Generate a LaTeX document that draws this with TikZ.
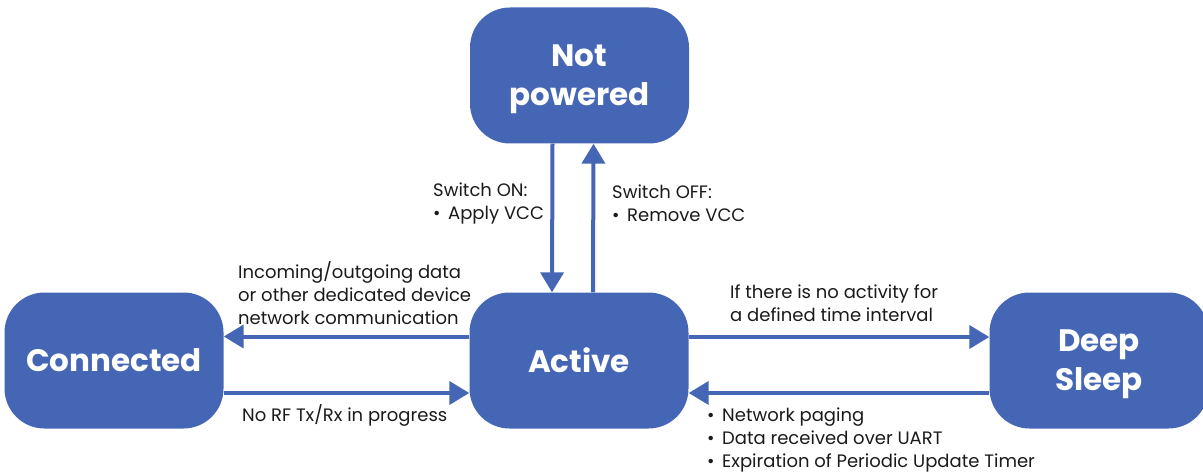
\documentclass[tikz,border=0pt]{standalone}
\usepackage{fontspec}
\setmainfont{Poppins}
\usetikzlibrary{arrows.meta}

\definecolor{stateblue}{HTML}{4565B5}
\definecolor{labeltext}{HTML}{1A1A1A}
\newcommand{\bul}{\makebox[15pt][l]{\textbullet}}

\tikzset{
    statebox/.style={fill=stateblue, draw=none, rounded corners=40pt, minimum width=219pt, minimum height=136pt, inner sep=0pt, text=white, align=center, font=\bfseries\fontsize{31}{39}\selectfont},
    twoline/.style={text depth=-2pt},
    trans/.style={draw=stateblue, line width=4pt, -{Triangle[length=20pt,width=23pt]}},
    lbl/.style={anchor=west, inner sep=0pt, align=left, text=labeltext, font=\fontsize{18}{23}\selectfont}
}

\begin{document}
\begin{tikzpicture}[x=1pt, y=1pt]
    \useasboundingbox (0,0) rectangle (1203,475);

    % states
    \node[statebox, twoline] (notpow) at (579.5,399.5) {Not\\powered};
    \node[statebox] (active) at (579,114.5) {Active};
    \node[statebox] (conn) at (114,114.5) {Connected};
    \node[statebox, twoline] (deep) at (1099,114.5) {Deep\\Sleep};

    % transitions
    \draw[trans] ([xshift=-27pt]notpow.south) -- ([xshift=-27pt]active.north);
    \draw[trans] ([xshift=14pt]active.north) -- ([xshift=14pt]notpow.south);
    \draw[trans] ([yshift=24pt]active.west) -- ([yshift=24pt]conn.east);
    \draw[trans] ([yshift=-32.5pt]conn.east) -- ([yshift=-32.5pt]active.west);
    \draw[trans] ([yshift=23.5pt]active.east) -- ([yshift=23.5pt]deep.west);
    \draw[trans] ([yshift=-32.5pt]deep.west) -- ([yshift=-32.5pt]active.east);

    % labels
    \node[lbl] (lon) at (433,271.5) {Switch ON:\\\bul Apply VCC};
    \node[lbl] (loff) at (612,271.5) {Switch OFF:\\\bul Remove VCC};
    \node[lbl] (lin) at (238,182) {Incoming/outgoing data\\or other dedicated device\\network communication};
    \node[lbl] (lnorf) at (242,60) {No RF Tx/Rx in progress};
    \node[lbl] (lidle) at (730,171.5) {If there is no activity for\\a defined time interval};
    \node[lbl] (lwake) at (707,35.5) {\bul Network paging\\\bul Data received over UART\\\bul Expiration of Periodic Update Timer};
\end{tikzpicture}
\end{document}
